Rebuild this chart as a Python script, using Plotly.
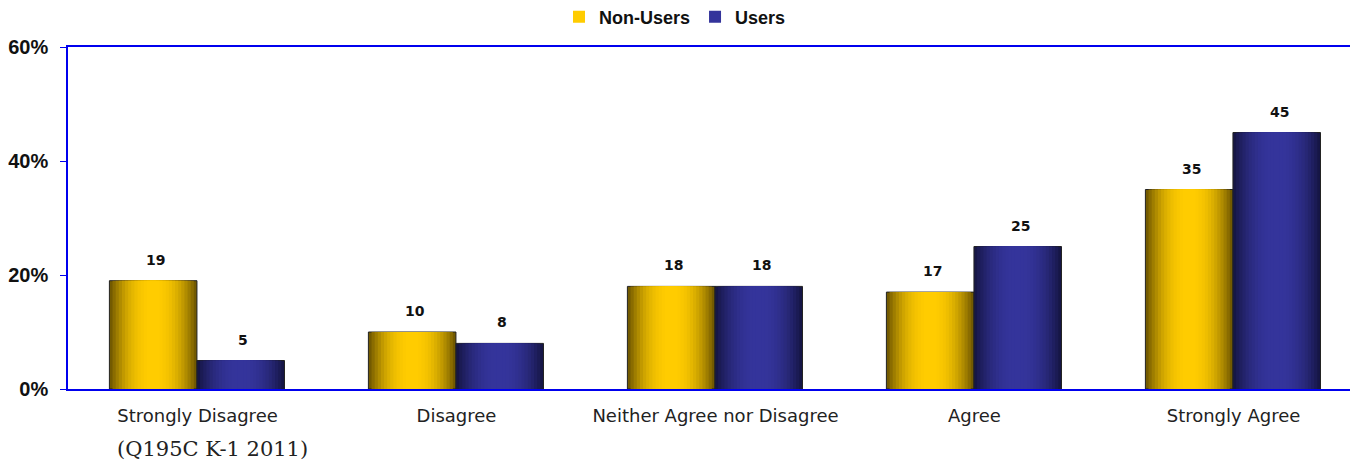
import plotly.graph_objects as go

categories = ["Strongly Disagree", "Disagree", "Neither Agree nor Disagree", "Agree", "Strongly Agree"]
non_users = [19, 10, 18, 17, 35]
users = [5, 8, 18, 25, 45]
y_ticks = [0, 20, 40, 60]
y_tick_labels = ["0%", "20%", "40%", "60%"]
source_note = "(Q195C K-1 2011)"

BAR_W = 0.338
N = 14
# page body has an 8px margin, so figure coords = screen coords - 8
ML, MR, MT, MB = 60, 3, 39, 83
PLOT_W = 1358 - ML - MR
PLOT_H = 464 - MT - MB

def lerp(c1, c2, t):
    return "rgb(%d,%d,%d)" % tuple(round(a + (b - a) * t) for a, b in zip(c1, c2))

series = [
    ("Non-Users", non_users, (115, 90, 0), (255, 204, 0), -BAR_W + 0.008),
    ("Users", users, (22, 22, 70), (52, 52, 155), 0.008),
]

fig = go.Figure()
for name, vals, dark, bright, off0 in series:
    for k in range(N):
        t = k / (N - 1)
        frac = 1 - k / N
        w = BAR_W * frac
        center = off0 + BAR_W * 0.47
        off = center - w / 2
        ease = 1 - (1 - t) ** 2.2
        col = lerp(dark, bright, ease)
        is_last = k == N - 1
        fig.add_trace(go.Bar(
            x=categories, y=vals, width=w, offset=off,
            marker=dict(color=col,
                        line=dict(color="#222222" if k == 0 else col, width=1 if k == 0 else 0)),
            name=name, legendgroup=name, showlegend=is_last,
            hoverinfo="skip" if not is_last else None,
        ))
    for c, v in zip(categories, vals):
        fig.add_annotation(
            x=c, y=v, xref="x", yref="y", text=str(v), showarrow=False,
            xshift=(off0 + BAR_W / 2) * PLOT_W / 5, yshift=21,
            font=dict(family="DejaVu Sans", size=14, color="#111111", weight="bold"),
        )

fig.add_annotation(
    text=source_note, xref="paper", yref="paper", x=(107 - ML) / PLOT_W, y=-60 / PLOT_H,
    xanchor="left", yanchor="middle", showarrow=False,
    font=dict(family="DejaVu Serif", size=21, color="#222222"),
)

fig.update_layout(
    barmode="overlay",
    width=1358, height=464,
    margin=dict(l=ML, r=MR, t=MT, b=MB, autoexpand=False),
    paper_bgcolor="white", plot_bgcolor="white",
    legend=dict(orientation="h", x=(667 - ML) / PLOT_W, xanchor="center",
                y=(PLOT_H + MT - 9) / PLOT_H, yanchor="middle",
                bgcolor="rgba(0,0,0,0)",
                font=dict(family="Liberation Sans", size=18, color="#111111", weight="bold"),
                traceorder="normal", itemwidth=30, itemsizing="constant"),
    xaxis=dict(showline=True, linecolor="#0000EE", linewidth=1.5, mirror=True,
               tickfont=dict(family="DejaVu Sans", size=18, color="#222222"),
               ticks="", showgrid=False, ticklabelstandoff=10, automargin=False),
    yaxis=dict(range=[0, 60], tickvals=y_ticks, ticktext=y_tick_labels,
               showline=True, linecolor="#0000EE", linewidth=1.5, mirror=True,
               ticks="outside", tickcolor="#0000EE", ticklen=6, ticklabelstandoff=8,
               tickfont=dict(family="Liberation Sans", size=20, color="#111111", weight="bold"),
               showgrid=False, zeroline=False, automargin=False),
)

fig.write_html("out.html")
